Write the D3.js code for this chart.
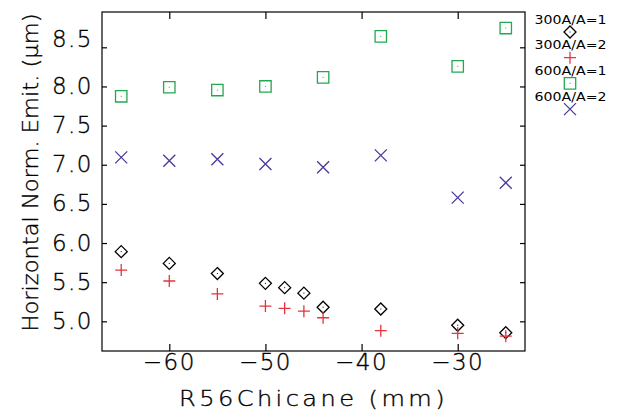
<!DOCTYPE html>
<html>
<head>
<meta charset="utf-8">
<script src="https://cdn.jsdelivr.net/npm/d3@7"></script>
<style>
  html, body { margin: 0; padding: 0; background: #fff; }
  svg { display: block; }
  text { font-family: "DejaVu Sans ExtraLight", "DejaVu Sans", sans-serif; font-weight: 200; fill: #000; stroke: #000; stroke-width: 0.35px; }
  text.legend { font-family: "DejaVu Sans", sans-serif; font-weight: normal; stroke: none; }
</style>
</head>
<body>
<div id="chart"></div>
<script>
// chicane R56 scan, mm
const r56_300 = [-65, -60, -55, -50, -48, -46, -44, -38, -30, -25];
const emit_300_a1 = [5.89, 5.74, 5.61, 5.485, 5.43, 5.36, 5.18, 5.157, 4.95, 4.855];
const emit_300_a2 = [5.655, 5.515, 5.35, 5.195, 5.166, 5.13, 5.046, 4.88, 4.847, 4.81];

const r56_600 = [-65, -60, -55, -50, -44, -38, -30, -25];
const emit_600_a1 = [7.874, 7.99, 7.954, 8.0, 8.116, 8.64, 8.257, 8.746];
const emit_600_a2 = [7.094, 7.05, 7.07, 7.01, 6.967, 7.12, 6.58, 6.77];

const seriesNames = ["300A/A=1", "300A/A=2", "600A/A=1", "600A/A=2"];
const xTicks = [-60, -50, -40, -30];
const yTicks = [5.0, 5.5, 6.0, 6.5, 7.0, 7.5, 8.0, 8.5];

const width = 618, height = 413;
const frame = { left: 102, right: 525, top: 12, bottom: 351 };

const x = d3.scaleLinear().domain([-67, -23]).range([frame.left, frame.right]);
const y = d3.scaleLinear().domain([4.621, 8.951]).range([frame.bottom, frame.top]);

const svg = d3.select("#chart").append("svg")
    .attr("width", width)
    .attr("height", height);

// frame
svg.append("rect")
    .attr("x", frame.left).attr("y", frame.top)
    .attr("width", frame.right - frame.left).attr("height", frame.bottom - frame.top)
    .attr("fill", "none").attr("stroke", "#000").attr("stroke-width", 1.2);

// ticks point inward on all four sides
const axisBottom = svg.append("g")
    .attr("transform", `translate(0,${frame.bottom})`)
    .call(d3.axisBottom(x).tickValues(xTicks).tickSize(-7).tickFormat(""));
const axisTop = svg.append("g")
    .attr("transform", `translate(0,${frame.top})`)
    .call(d3.axisTop(x).tickValues(xTicks).tickSize(-7).tickFormat(""));
const axisLeft = svg.append("g")
    .attr("transform", `translate(${frame.left},0)`)
    .call(d3.axisLeft(y).tickValues(yTicks).tickSize(-5).tickFormat(""));
const axisRight = svg.append("g")
    .attr("transform", `translate(${frame.right},0)`)
    .call(d3.axisRight(y).tickValues(yTicks).tickSize(-5).tickFormat(""));

[axisBottom, axisTop, axisLeft, axisRight].forEach(g => {
  g.select(".domain").remove();
  g.selectAll("line").attr("stroke", "#000").attr("stroke-width", 1.2);
});

const minus = v => (v < 0 ? "\u2212" + Math.abs(v) : "" + v);

svg.append("g").selectAll("text")
  .data(xTicks)
  .enter().append("text")
    .attr("x", d => x(d))
    .attr("y", 370)
    .attr("text-anchor", "middle")
    .style("font-size", "23px")
    .style("letter-spacing", "1.5px")
    .text(d => minus(d));

// labels are centred on their ticks, except the top one which sits just above
const yTop = yTicks[yTicks.length - 1];
svg.append("g").selectAll("text")
  .data(yTicks)
  .enter().append("text")
    .attr("x", 93)
    .attr("y", d => d === yTop ? y(d) : y(d) + 7.5)
    .attr("text-anchor", "end")
    .style("font-size", "23px")
    .style("letter-spacing", "1.5px")
    .text(d => d3.format(".1f")(d));

// axis titles
svg.append("text")
    .attr("x", (frame.left + frame.right) / 2)
    .attr("y", 406)
    .attr("text-anchor", "middle")
    .attr("textLength", 269)
    .attr("lengthAdjust", "spacingAndGlyphs")
    .style("font-size", "21px")
    .style("letter-spacing", "3px")
    .text("R56Chicane (mm)");

svg.append("text")
    .attr("transform", "translate(38,172.5) rotate(-90)")
    .attr("text-anchor", "middle")
    .attr("textLength", 318)
    .attr("lengthAdjust", "spacingAndGlyphs")
    .style("font-size", "21px")
    .text("Horizontal Norm. Emit. (\u03bcm)");

// marker shapes
const symbols = [
  { path: "M0,-6L6,0L0,6L-6,0Z", color: "#000", dot: true },
  { path: "M-6,0H6M0,-6V6", color: "#e8323c", dot: false },
  { path: "M-5.7,-5.7H5.7V5.7H-5.7Z", color: "#22a94f", dot: true },
  { path: "M-6,-6L6,6M-6,6L6,-6", color: "#4a3a9a", dot: false }
];

const series = [
  { xs: r56_300, ys: emit_300_a1 },
  { xs: r56_300, ys: emit_300_a2 },
  { xs: r56_600, ys: emit_600_a1 },
  { xs: r56_600, ys: emit_600_a2 }
];

function drawMarker(g, s) {
  g.append("path")
      .attr("d", s.path)
      .attr("fill", "none")
      .attr("stroke", s.color)
      .attr("stroke-width", 1.3);
  if (s.dot) {
    g.append("rect")
        .attr("x", -0.5).attr("y", -0.5)
        .attr("width", 1).attr("height", 1)
        .attr("fill", s.color);
  }
}

series.forEach((ser, i) => {
  const pts = ser.xs.map((v, j) => [v, ser.ys[j]]);
  svg.append("g").selectAll("g")
    .data(pts)
    .enter().append("g")
      .attr("transform", d => `translate(${x(d[0])},${y(d[1])})`)
      .each(function() { drawMarker(d3.select(this), symbols[i]); });
});

// legend, right of the frame
const legend = svg.append("g");
seriesNames.forEach((name, i) => {
  const my = 32 + i * 25.7;
  legend.append("text")
      .attr("class", "legend")
      .attr("x", 570.5)
      .attr("y", my - 8.5)
      .attr("text-anchor", "middle")
      .attr("textLength", 72)
      .attr("lengthAdjust", "spacingAndGlyphs")
      .style("font-size", "11.5px")
      .text(name);
  const g = legend.append("g").attr("transform", `translate(570,${my})`);
  drawMarker(g, symbols[i]);
});
</script>
</body>
</html>
